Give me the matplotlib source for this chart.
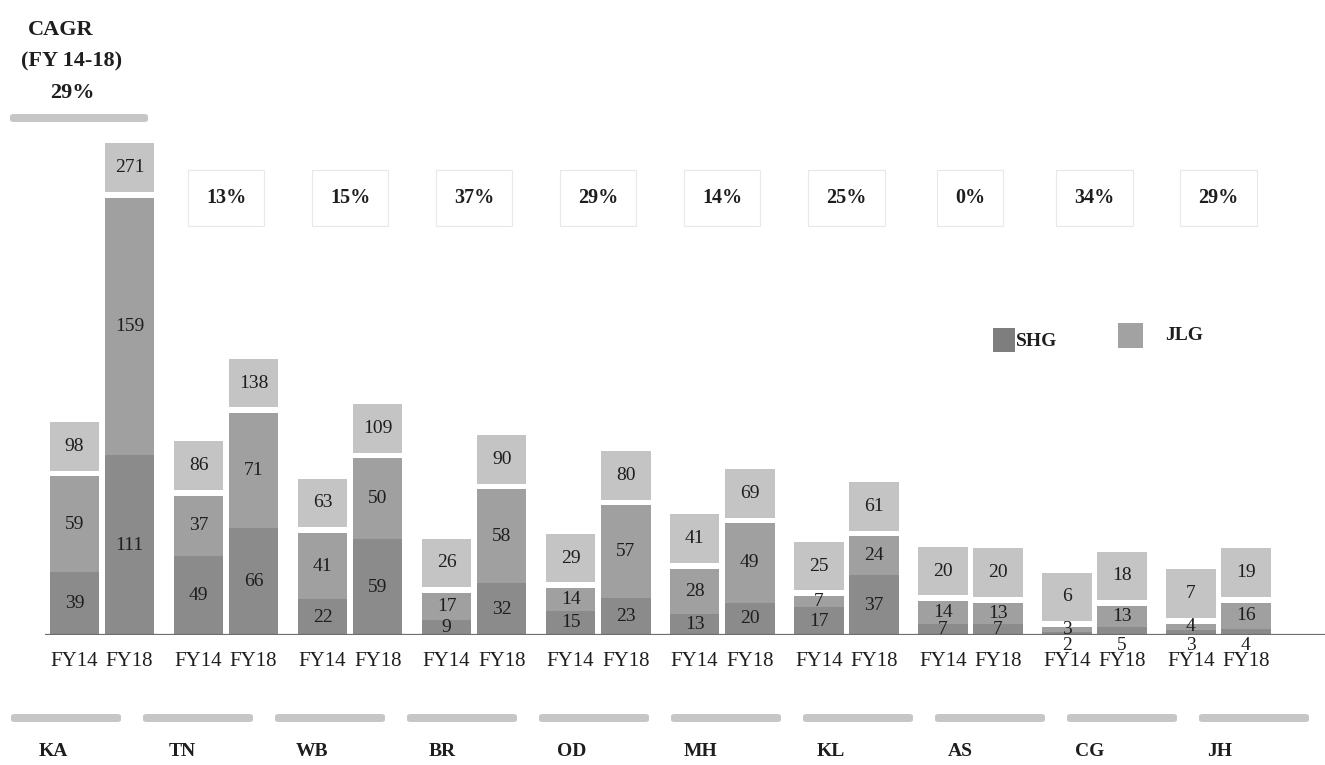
import matplotlib
matplotlib.use("Agg")
import matplotlib.pyplot as plt
from matplotlib.patches import FancyBboxPatch, Rectangle
import matplotlib.transforms as mtransforms

# ---------------- data ----------------
states = ['KA', 'TN', 'WB', 'BR', 'OD', 'MH', 'KL', 'AS', 'CG', 'JH']
years = ['FY14', 'FY18']
shg_fy14 = [39, 49, 22, 9, 15, 13, 17, 7, 2, 3]
jlg_fy14 = [59, 37, 41, 17, 14, 28, 7, 14, 3, 4]
tot_fy14 = [98, 86, 63, 26, 29, 41, 25, 20, 6, 7]
shg_fy18 = [111, 66, 59, 32, 23, 20, 37, 7, 5, 4]
jlg_fy18 = [159, 71, 50, 58, 57, 49, 24, 13, 13, 16]
tot_fy18 = [271, 138, 109, 90, 80, 69, 61, 20, 18, 19]
cagr = ['29%', '13%', '15%', '37%', '29%', '14%', '25%', '0%', '34%', '29%']

# ---------------- style ----------------
SHG_C = '#8b8b8b'
JLG_C = '#a0a0a0'
TOT_C = '#c4c4c4'
TXT_C = '#1e1e1e'
SERIF = ['Liberation Serif', 'DejaVu Serif']
plt.rcParams['font.family'] = SERIF

W, H = 1325, 765
fig = plt.figure(figsize=(W / 100, H / 100), dpi=100)

base_px = 635          # baseline pixel row (from top)
px_per_unit = 1.62
ax = fig.add_axes([45 / W, (H - base_px) / H, 1 - 45 / W, base_px / H])
ax.set_xlim(-0.46, 9.86)
ax.set_ylim(0, base_px / px_per_unit)
ax.axis('off')

bw = 0.40
off = 0.222
gap = 3.5
box_h = 30
VFS = 14

series = [(-off, shg_fy14, jlg_fy14, tot_fy14), (off, shg_fy18, jlg_fy18, tot_fy18)]
fig_y = mtransforms.blended_transform_factory(ax.transData, fig.transFigure)

for dx, shg, jlg, tot in series:
    xs = [i + dx for i in range(len(states))]
    ax.bar(xs, shg, width=bw, color=SHG_C, linewidth=0)
    ax.bar(xs, jlg, width=bw, bottom=shg, color=JLG_C, linewidth=0)
    tops = [s + j for s, j in zip(shg, jlg)]
    ax.bar(xs, [box_h] * len(xs), width=bw, bottom=[t + gap for t in tops],
           color=TOT_C, linewidth=0)
    for x, s, j, t, tp in zip(xs, shg, jlg, tot, tops):
        if s < 6:
            ax.text(x, -1, str(s), ha='center', va='top', fontsize=VFS, color=TXT_C)
        else:
            ax.text(x, s / 2, str(s), ha='center', va='center', fontsize=VFS, color=TXT_C)
        ax.text(x, s + j / 2, str(j), ha='center', va='center', fontsize=VFS, color=TXT_C)
        ax.text(x, tp + gap + box_h / 2, str(t), ha='center', va='center',
                fontsize=VFS, color=TXT_C)

# baseline
ax.axhline(0, color='#6e6e6e', lw=1.6, xmin=0, xmax=1)

# year tick labels
for dx, yl in zip([-off, off], years):
    for i in range(len(states)):
        ax.text(i + dx, (H - 662) / H, yl, transform=fig_y, ha='center', va='center',
                fontsize=15, color=TXT_C)

# group separators and state names (figure pixel layout)
for i, st in enumerate(states):
    cx = 66 + 132 * i
    fig.patches.append(FancyBboxPatch(((cx - 55) / W, (H - 722) / H), 110 / W, 8 / H,
                                      boxstyle='round,pad=0,rounding_size=0.003',
                                      transform=fig.transFigure, facecolor='#c6c6c6',
                                      edgecolor='none'))
    nx = 53 + 129.6 * i
    fig.text(nx / W, (H - 752) / H, st, ha='center', va='center', fontsize=14,
             fontweight='bold', color=TXT_C)

# CAGR per group
for i in range(1, len(states)):
    ax.text(i, (H - 198) / H, cagr[i], transform=fig_y, ha='center', va='center',
            fontsize=14.5, fontweight='bold', color=TXT_C,
            bbox=dict(boxstyle='square,pad=0.9', facecolor='white',
                      edgecolor='#e8e8e8', lw=0.8))

# top-left CAGR heading
fig.text(61 / W, (H - 30) / H, 'CAGR', ha='center', va='center', fontsize=16,
         fontweight='bold', color=TXT_C)
fig.text(72 / W, (H - 61) / H, '(FY 14-18)', ha='center', va='center', fontsize=16,
         fontweight='bold', color=TXT_C)
fig.text(72 / W, (H - 93) / H, cagr[0], ha='center', va='center', fontsize=16,
         fontweight='bold', color=TXT_C)
fig.patches.append(FancyBboxPatch((10 / W, (H - 122) / H), 138 / W, 8 / H,
                                  boxstyle='round,pad=0,rounding_size=0.003',
                                  transform=fig.transFigure, facecolor='#c6c6c6',
                                  edgecolor='none'))

# legend
fig.patches.append(Rectangle((993 / W, (H - 352) / H), 22 / W, 24 / H,
                             transform=fig.transFigure, facecolor='#7e7e7e', edgecolor='none'))
fig.text(1016 / W, (H - 341) / H, 'SHG', ha='left', va='center', fontsize=14,
         fontweight='bold', color=TXT_C)
fig.patches.append(Rectangle((1118 / W, (H - 348) / H), 25 / W, 25 / H,
                             transform=fig.transFigure, facecolor='#a2a2a2', edgecolor='none'))
fig.text(1165 / W, (H - 335) / H, 'JLG', ha='left', va='center', fontsize=14,
         fontweight='bold', color=TXT_C)

fig.savefig('out.png', dpi=100)
